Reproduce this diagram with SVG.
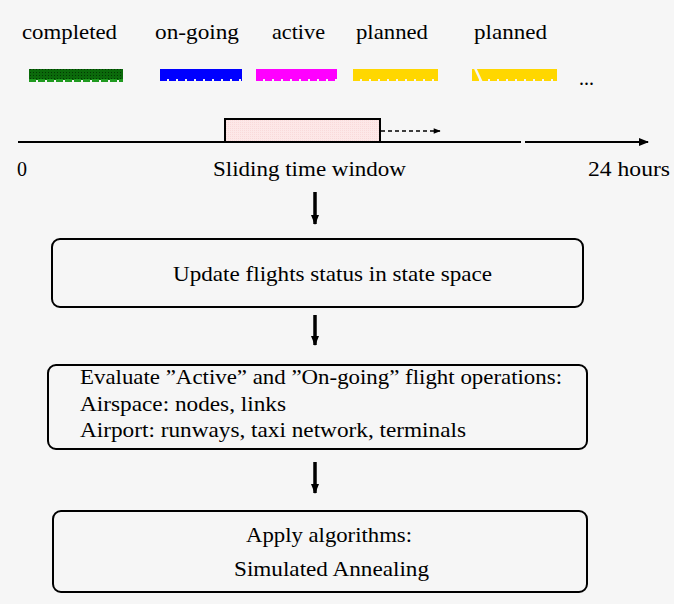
<svg xmlns="http://www.w3.org/2000/svg" width="674" height="604" viewBox="0 0 674 604">
<style>
text{font-family:"Liberation Serif","Times New Roman",serif;font-size:21px;fill:#000}
.box{fill:none;stroke:#000;stroke-width:2}
.bar{stroke:none}
.edge{stroke-width:3;stroke-dasharray:7 2;fill:none}
.conn{stroke:#000;fill:none}
</style>
<defs>
<pattern id="hatch" width="3" height="3" patternUnits="userSpaceOnUse">
<rect width="3" height="3" fill="#0b6a0b"/>
<rect width="1" height="1" fill="#033803"/>
</pattern>
<pattern id="pinkdots" width="2" height="2" patternUnits="userSpaceOnUse">
<rect width="2" height="2" fill="#fde8e8"/>
<rect width="1" height="1" fill="#f9dada"/>
</pattern>
<marker id="ahead" viewBox="0 0 10 10" refX="9" refY="5" markerWidth="10" markerHeight="10" markerUnits="userSpaceOnUse" orient="auto">
<path d="M0,1 L10,5 L0,9 z" fill="#000"/>
</marker>
<marker id="ahsmall" viewBox="0 0 10 10" refX="9" refY="5" markerWidth="8" markerHeight="7" markerUnits="userSpaceOnUse" orient="auto">
<path d="M0,1 L10,5 L0,9 z" fill="#000"/>
</marker>
</defs>
<rect width="674" height="604" fill="#f6f6f6"/>

<g id="legend">
<text x="22" y="39" textLength="95" lengthAdjust="spacingAndGlyphs">completed</text>
<text x="155" y="39" textLength="84" lengthAdjust="spacingAndGlyphs">on-going</text>
<text x="272" y="39" textLength="53" lengthAdjust="spacingAndGlyphs">active</text>
<text x="356" y="39" textLength="72" lengthAdjust="spacingAndGlyphs">planned</text>
<text x="474" y="39" textLength="73" lengthAdjust="spacingAndGlyphs">planned</text>
<rect class="bar" x="29" y="69" width="94" height="11" fill="url(#hatch)" stroke="#3bdc3b" stroke-width="1"/>
<line class="edge" x1="29" y1="80.5" x2="123" y2="80.5" stroke="#1f9a1f"/>
<rect class="bar" x="160" y="69" width="82" height="10" fill="#0000ff"/>
<line class="edge" x1="160" y1="79.5" x2="242" y2="79.5" stroke="#0000ff"/>
<rect class="bar" x="256" y="69" width="81" height="10" fill="#ff00ff"/>
<line class="edge" x1="256" y1="79.5" x2="337" y2="79.5" stroke="#ff00ff"/>
<rect class="bar" x="353" y="69" width="85" height="10" fill="#ffd700"/>
<line class="edge" x1="353" y1="79.5" x2="438" y2="79.5" stroke="#ffd700"/>
<rect class="bar" x="472" y="69" width="85" height="10" fill="#ffd700"/>
<line class="edge" x1="472" y1="79.5" x2="557" y2="79.5" stroke="#ffd700"/>
<line x1="475" y1="68" x2="482" y2="83" stroke="#f6f6f6" stroke-width="2.5"/>
<text x="579" y="85" textLength="15" lengthAdjust="spacingAndGlyphs">...</text>
</g>

<g id="timeline">
<line class="conn" x1="18" y1="142" x2="521" y2="142" stroke-width="2"/>
<line class="conn" x1="525" y1="142" x2="648" y2="142" stroke-width="2" marker-end="url(#ahead)"/>
<rect x="225" y="119" width="155" height="23" fill="url(#pinkdots)" stroke="#000" stroke-width="2"/>
<line class="conn" x1="381" y1="131" x2="440" y2="131" stroke-width="1.3" stroke-dasharray="4 3" marker-end="url(#ahsmall)"/>
<text x="17" y="176" textLength="10" lengthAdjust="spacingAndGlyphs">0</text>
<text x="213" y="176" textLength="193" lengthAdjust="spacingAndGlyphs">Sliding time window</text>
<text x="588" y="176" textLength="82" lengthAdjust="spacingAndGlyphs">24 hours</text>
</g>

<g id="connectors">
<line class="conn" x1="315" y1="192" x2="315" y2="224" stroke-width="3.5" marker-end="url(#ahead)"/>
<line class="conn" x1="315" y1="315" x2="315" y2="345" stroke-width="3.5" marker-end="url(#ahead)"/>
<line class="conn" x1="315" y1="462" x2="315" y2="493" stroke-width="3.5" marker-end="url(#ahead)"/>
</g>

<g id="update">
<rect class="box" x="52" y="239" width="531" height="68" rx="8"/>
<text x="173" y="281" textLength="319" lengthAdjust="spacingAndGlyphs">Update flights status in state space</text>
</g>

<g id="evaluate">
<rect class="box" x="48" y="365" width="539" height="84" rx="8"/>
<text x="80" y="384" textLength="482" lengthAdjust="spacingAndGlyphs">Evaluate ”Active” and ”On-going” flight operations:</text>
<text x="80" y="411" textLength="206" lengthAdjust="spacingAndGlyphs">Airspace: nodes, links</text>
<text x="80" y="437" textLength="386" lengthAdjust="spacingAndGlyphs">Airport: runways, taxi network, terminals</text>
</g>

<g id="apply">
<rect class="box" x="53" y="511" width="534" height="81" rx="8"/>
<text x="246" y="542" textLength="166" lengthAdjust="spacingAndGlyphs">Apply algorithms:</text>
<text x="234" y="576" textLength="195" lengthAdjust="spacingAndGlyphs">Simulated Annealing</text>
</g>
</svg>
